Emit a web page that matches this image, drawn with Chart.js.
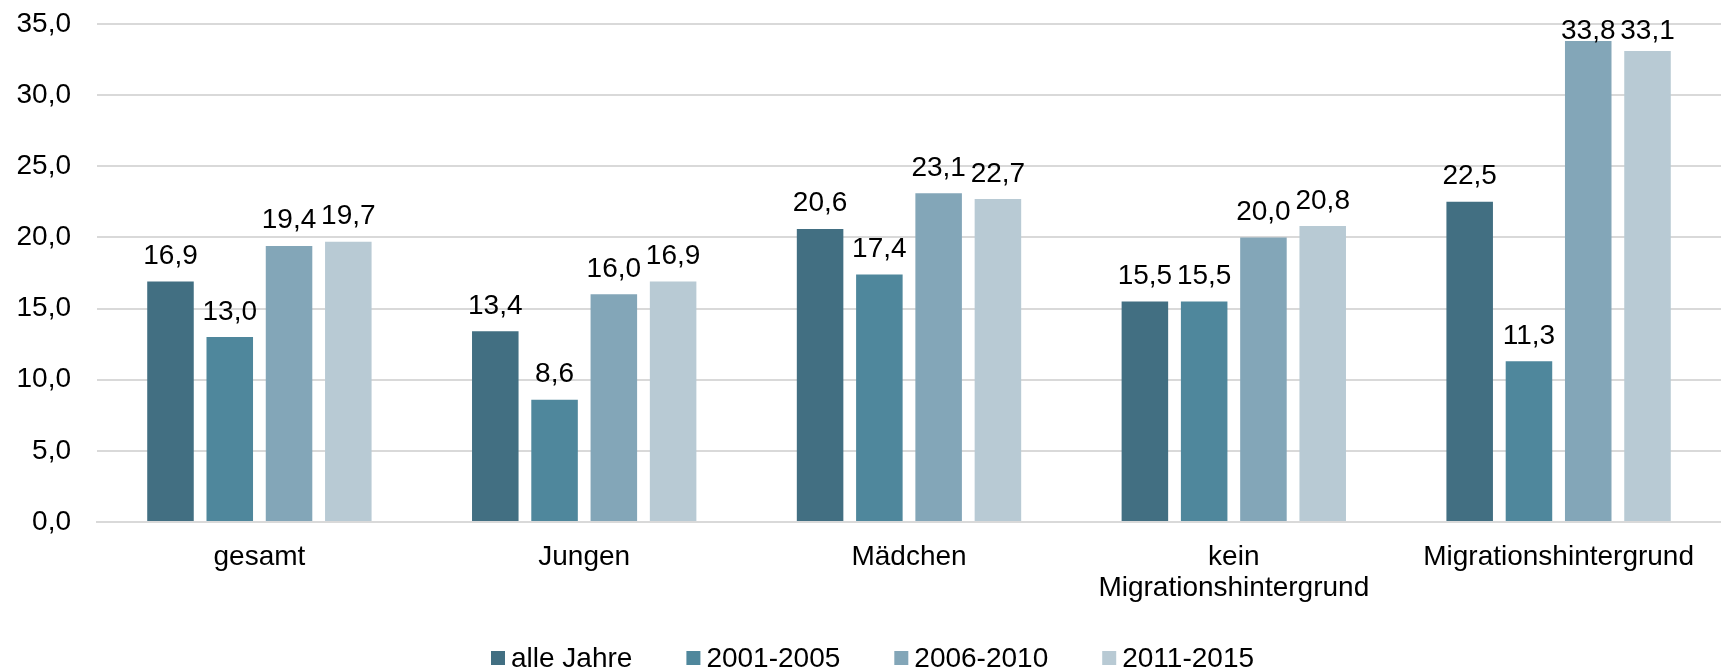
<!DOCTYPE html>
<html><head><meta charset="utf-8">
<script src="https://cdn.jsdelivr.net/npm/chart.js@4/dist/chart.umd.min.js"></script>
<style>html,body{margin:0;padding:0;background:#fff;overflow:hidden;}</style>
</head><body>
<canvas id="c" width="1721" height="671" style="display:block;width:1721px;height:671px"></canvas>
<script>
const categories = ['gesamt', 'Jungen', 'Mädchen', ['kein', 'Migrationshintergrund'], 'Migrationshintergrund'];
const seriesNames = ['alle Jahre', '2001-2005', '2006-2010', '2011-2015'];
const alleJahre = [16.9, 13.4, 20.6, 15.5, 22.5];
const jahre2001_2005 = [13.0, 8.6, 17.4, 15.5, 11.3];
const jahre2006_2010 = [19.4, 16.0, 23.1, 20.0, 33.8];
const jahre2011_2015 = [19.7, 16.9, 22.7, 20.8, 33.1];
const yTicks = [0, 5, 10, 15, 20, 25, 30, 35];

const seriesValues = [alleJahre, jahre2001_2005, jahre2006_2010, jahre2011_2015];
const colors = ['#426F82', '#4F879C', '#83A6B8', '#B8CAD4'];
const FONT = '"Liberation Sans", Arial, sans-serif';
const FS = 28;
const fmt = v => v.toFixed(1).replace('.', ',');

const valueLabels = {
  id: 'valueLabels',
  afterDatasetsDraw(chart) {
    const ctx = chart.ctx;
    ctx.save();
    ctx.font = FS + 'px ' + FONT;
    ctx.fillStyle = '#000';
    ctx.textAlign = 'center';
    ctx.textBaseline = 'alphabetic';
    chart.data.datasets.forEach((ds, i) => {
      const meta = chart.getDatasetMeta(i);
      meta.data.forEach((bar, j) => {
        const y = Math.max(bar.y - 17.5, chart.chartArea.top + 15);
        ctx.fillText(fmt(ds.data[j]), bar.x, y);
      });
    });
    ctx.restore();
  }
};

const customLegend = {
  id: 'customLegend',
  afterDraw(chart) {
    const ctx = chart.ctx;
    ctx.save();
    ctx.font = FS + 'px ' + FONT;
    ctx.textBaseline = 'middle';
    ctx.textAlign = 'left';
    let x = 491;
    const yc = 658, box = 14, gap = 6, itemGap = 54;
    chart.data.datasets.forEach(ds => {
      ctx.fillStyle = ds.backgroundColor;
      ctx.fillRect(x, yc - box / 2, box, box);
      x += box + gap;
      ctx.fillStyle = '#000';
      ctx.fillText(ds.label, x, yc + 1);
      x += ctx.measureText(ds.label).width + itemGap;
    });
    ctx.restore();
  }
};

new Chart(document.getElementById('c'), {
  type: 'bar',
  data: {
    labels: categories,
    datasets: seriesNames.map((name, i) => ({
      label: name,
      data: seriesValues[i],
      backgroundColor: colors[i],
      categoryPercentage: 0.73,
      barPercentage: 0.785
    }))
  },
  options: {
    responsive: false,
    devicePixelRatio: 1,
    animation: false,
    layout: { padding: { top: 24, right: 0, bottom: 0, left: 0 } },
    plugins: { legend: { display: false }, tooltip: { enabled: false } },
    scales: {
      x: {
        grid: { display: false, drawTicks: false },
        border: { display: true, color: '#D9D9D9', width: 2 },
        ticks: { color: '#000', font: { family: FONT, size: FS, lineHeight: 1.1 }, padding: 20, maxRotation: 0, autoSkip: false },
        afterFit: s => { s.height = 149; }
      },
      y: {
        min: 0, max: 35,
        afterBuildTicks: s => { s.ticks = yTicks.map(v => ({ value: v })); },
        grid: { color: '#D9D9D9', lineWidth: 2, drawTicks: true, tickLength: 19, tickColor: 'rgba(0,0,0,0)' },
        border: { display: false },
        ticks: { color: '#000', font: { family: FONT, size: FS }, padding: 7, callback: v => fmt(v) },
        afterFit: s => { s.width = 97; }
      }
    }
  },
  plugins: [valueLabels, customLegend]
});
</script>
</body></html>
